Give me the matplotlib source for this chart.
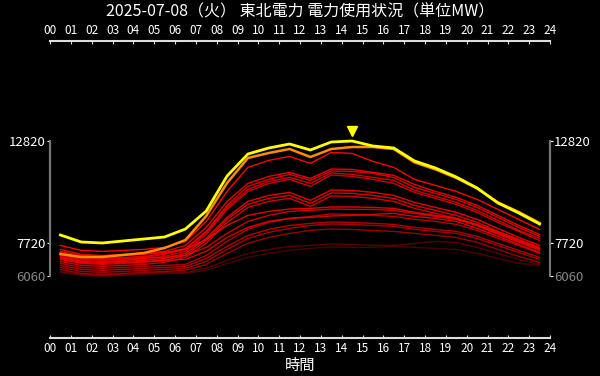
import matplotlib
matplotlib.use('Agg')
import matplotlib.pyplot as plt
import matplotlib.transforms as mtransforms
import numpy as np

plt.rcParams['font.family'] = ['Noto Sans CJK JP', 'DejaVu Sans']

title = '2025-07-08（火） 東北電力 電力使用状況（単位MW）'
hour_labels = ['%02d' % h for h in range(25)]
hours = np.arange(24) + 0.5

# today (yellow) and yesterday (orange)
today = [8120, 7770, 7720, 7820, 7920, 8020, 8420, 9320, 11070, 12170, 12470, 12670,
         12370, 12770, 12820, 12570, 12470, 11820, 11470, 11020, 10470, 9720, 9220, 8670]
yesterday = [7170, 7020, 7020, 7120, 7220, 7470, 7870, 9070, 10720, 11970, 12220, 12420,
             12020, 12420, 12520, 12520, 12420, 11750, 11400, 10970, 10450, 9750, 9270, 8720]

# past days (red), brightness per day
past_days = [
    [7600, 7350, 7300, 7350, 7400, 7500, 7800, 8800, 10300, 11500, 11850, 12050, 11700, 12250, 12200, 11800, 11500, 10900, 10600, 10300, 9900, 9400, 8900, 8400],
    [7400, 7150, 7100, 7150, 7200, 7300, 7600, 8500, 9800, 10700, 11050, 11250, 10950, 11420, 11400, 11250, 11100, 10650, 10300, 10000, 9600, 9100, 8600, 8150],
    [7250, 7000, 6950, 7000, 7050, 7200, 7450, 8300, 9600, 10550, 10900, 11150, 10850, 11320, 11300, 11200, 11000, 10500, 10200, 9900, 9500, 9000, 8500, 8050],
    [7150, 6950, 6900, 6950, 7000, 7150, 7400, 8250, 9500, 10400, 10800, 11000, 10700, 11220, 11150, 11000, 10850, 10350, 10050, 9750, 9350, 8850, 8350, 7950],
    [7050, 6850, 6800, 6850, 6950, 7050, 7300, 8150, 9400, 10300, 10700, 10900, 10550, 11120, 11050, 10900, 10700, 10250, 9950, 9650, 9250, 8750, 8300, 7850],
    [7000, 6800, 6750, 6800, 6850, 6950, 7200, 7950, 9000, 9800, 10100, 10250, 9850, 10370, 10350, 10250, 10100, 9750, 9500, 9250, 8900, 8450, 8000, 7600],
    [6900, 6700, 6650, 6700, 6750, 6850, 7100, 7850, 8900, 9650, 9950, 10100, 9700, 10220, 10200, 10100, 9950, 9600, 9350, 9100, 8750, 8300, 7900, 7500],
    [6800, 6600, 6550, 6600, 6650, 6750, 7000, 7700, 8750, 9500, 9800, 9950, 9550, 10070, 10050, 9950, 9800, 9450, 9200, 8950, 8600, 8150, 7750, 7350],
    [7300, 7100, 7050, 7100, 7150, 7250, 7400, 7900, 8600, 9100, 9300, 9420, 9450, 9520, 9520, 9500, 9450, 9250, 9100, 8950, 8650, 8250, 7850, 7450],
    [7100, 6900, 6850, 6900, 6950, 7000, 7100, 7500, 8200, 8800, 9100, 9300, 9350, 9420, 9400, 9400, 9350, 9200, 9050, 8900, 8600, 8200, 7800, 7400],
    [6700, 6500, 6450, 6500, 6550, 6600, 6650, 7100, 7800, 8400, 8750, 8950, 9050, 9170, 9150, 9100, 9050, 8900, 8800, 8650, 8350, 7950, 7600, 7200],
    [6950, 6750, 6700, 6750, 6800, 6850, 6900, 7300, 8000, 8500, 8800, 8950, 9000, 9070, 9100, 9150, 9200, 9050, 8950, 8800, 8450, 8050, 7650, 7250],
    [6600, 6400, 6350, 6400, 6450, 6500, 6550, 6950, 7550, 8100, 8400, 8600, 8700, 8770, 8750, 8700, 8650, 8500, 8400, 8300, 8050, 7700, 7350, 7000],
    [6500, 6300, 6250, 6300, 6350, 6400, 6450, 6800, 7400, 7950, 8250, 8450, 8600, 8670, 8650, 8600, 8550, 8400, 8300, 8200, 7950, 7600, 7250, 6900],
    [6400, 6200, 6150, 6200, 6250, 6300, 6350, 6650, 7200, 7700, 8000, 8200, 8350, 8420, 8400, 8350, 8300, 8200, 8100, 8000, 7750, 7400, 7050, 6750],
    [6300, 6150, 6100, 6150, 6200, 6250, 6250, 6450, 6850, 7200, 7400, 7550, 7600, 7670, 7650, 7600, 7600, 7700, 7800, 7750, 7500, 7200, 6900, 6650],
    [6250, 6100, 6060, 6100, 6150, 6200, 6200, 6350, 6700, 7000, 7200, 7350, 7450, 7520, 7500, 7500, 7550, 7500, 7450, 7400, 7200, 6950, 6700, 6600],
]
past_alpha = [1.0, 0.9, 0.85, 0.8, 0.8, 0.9, 0.85, 0.8, 0.9, 0.8, 0.7, 0.85, 0.7, 0.65, 0.6, 0.35, 0.3]

fig = plt.figure(figsize=(6, 3.76), dpi=100, facecolor='black')
ax = fig.add_axes([50 / 600, 1 - 338 / 376, 500 / 600, 297 / 376], facecolor='black')

for vals, a in zip(past_days, past_alpha):
    ax.plot(hours, vals, color='red', alpha=a, lw=1.0)
ax.plot(hours, yesterday, color='#ff8c00', lw=1.8)
ax.plot(hours, today, color='#ffff00', lw=2.0)

peak_i = int(np.argmax(today))
shift = mtransforms.offset_copy(ax.transData, fig=fig, x=0, y=10, units='dots')
ax.plot(hours[peak_i], today[peak_i], marker='v', color='#ffff00', ms=7, transform=shift)

ymin = min(min(d) for d in past_days)
ymax = max(today)
ymin_today = min(today)

ax.set_xlim(0, 24)
ax.set_ylim(2970, 17820)
ax.set_xticks(range(25))
ax.set_xticklabels(hour_labels)
ax.set_xlabel('時間', color='white', fontsize=11, labelpad=1.5)

for s in ['top', 'bottom']:
    ax.spines[s].set_color('#dddddd')
    ax.spines[s].set_linewidth(1.5)
for s in ['left', 'right']:
    ax.spines[s].set_bounds(ymin, ymax)
    ax.spines[s].set_color('#777777')
    ax.spines[s].set_linewidth(1.5)
    xs = 0 if s == 'left' else 1
    ax.plot([xs, xs], [ymin_today, ymax], color='white', lw=1.5,
            transform=ax.get_yaxis_transform(), clip_on=False)

ax.tick_params(axis='x', which='both', top=True, labeltop=True, bottom=True, labelbottom=True,
               direction='in', length=2, color='#dddddd', labelcolor='white', labelsize=8.5, pad=3)
ax.tick_params(axis='y', left=True, right=True, labelleft=True, labelright=True,
               direction='out', length=2, color='white', labelcolor='white', labelsize=9.5, pad=1)
ax.set_yticks([ymin, ymin_today, ymax])
ax.set_yticklabels([str(ymin), str(ymin_today), str(ymax)])
for t in ax.yaxis.get_major_ticks():
    if t.label1.get_text() == str(ymin):
        t.label1.set_color('#888888')
        t.label2.set_color('#888888')

fig.text(0.5, 1 - 12 / 376, title, color='white', fontsize=11.5, ha='center', va='center')

fig.savefig('out.png', dpi=100, facecolor='black')
